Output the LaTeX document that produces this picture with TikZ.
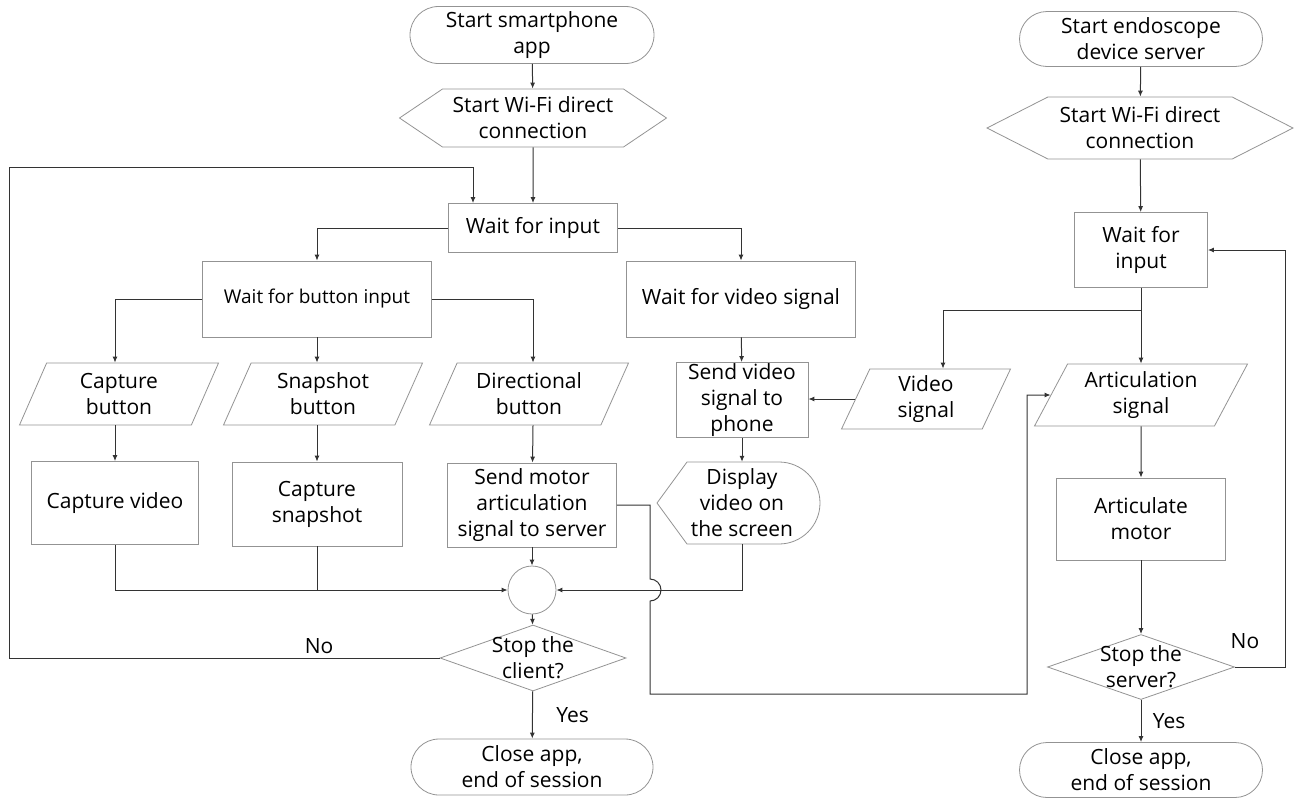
\documentclass[tikz,border=0pt]{standalone}
\usepackage{fontspec}
\setmainfont{Open Sans}
\usepackage{tikz}
\usetikzlibrary{shapes.geometric, shapes.misc, shapes.symbols, arrows.meta}

\begin{document}
\begin{tikzpicture}[x=1pt, y=-1pt, >={Latex[length=6pt,width=5pt]},
    font=\fontsize{21}{26}\selectfont,
    outline/.style={draw=gray!85, line width=0.8pt},
    procbox/.style={rectangle, outline, inner sep=1pt, align=center},
    termbox/.style={rounded rectangle, outline, inner sep=1pt, align=center},
    hexbox/.style={signal, signal to=west and east, outline, inner sep=1pt, align=center},
    iobox/.style={trapezium, trapezium stretches body, outline, inner sep=1pt, align=center},
    decbox/.style={diamond, outline, inner sep=0pt},
    flow/.style={draw=black!80, line width=1pt}]
    \useasboundingbox (0,0) rectangle (1295,798);

    % Smartphone app (client)
    \node[termbox, minimum width=246pt, minimum height=57pt] (startA) at (532,35) {Start smartphone\\app};
    \node[hexbox, signal pointer angle=68, minimum width=267pt, minimum height=58pt] (hexA) at (533,118) {Start Wi-Fi direct\\connection};
    \node[procbox, minimum width=169pt, minimum height=49pt] (waitA) at (533,228) {Wait for input};
    \node[procbox, minimum width=229pt, minimum height=76pt, font=\fontsize{19}{24}\selectfont] (wbtn) at (317,299) {Wait for button input};
    \node[procbox, minimum width=229pt, minimum height=76pt] (wvid) at (741,299) {Wait for video signal};

    % Buttons
    \node[iobox, trapezium left angle=58, trapezium right angle=122, minimum width=199pt, minimum height=62pt] (capB) at (119,394) {Capture\\button};
    \node[iobox, trapezium left angle=58, trapezium right angle=122, minimum width=199pt, minimum height=62pt] (snapB) at (323,394) {Snapshot\\button};
    \node[iobox, trapezium left angle=58, trapezium right angle=122, minimum width=199pt, minimum height=62pt] (dirB) at (529,394) {Directional\\button};

    % Actions
    \node[procbox, minimum width=167pt, minimum height=83pt] (capV) at (115,503) {Capture video};
    \node[procbox, minimum width=170pt, minimum height=84pt] (capS) at (317,504) {Capture\\snapshot};
    \node[procbox, minimum width=169pt, minimum height=84pt] (motor) at (532,505) {Send motor\\articulation\\signal to server};
    \node[procbox, minimum width=132pt, minimum height=75pt, inner sep=0pt] (sendV) at (742,400) {Send video\\signal to\\phone};

    % Display
    \draw[outline] (657,503) -- (687,462) -- (779,462) arc[start angle=90, end angle=-90, radius=41pt] -- (687,544) -- cycle;
    \node[minimum width=163pt, minimum height=82pt, align=center, inner sep=0pt] (disp) at (742,503) {Display\\video on\\the screen};

    % Join and stop
    \node[circle, outline, minimum size=48pt, inner sep=0pt] (junc) at (532,590) {};
    \node[decbox, minimum width=186pt, minimum height=66pt] (stopC) at (533,658) {};
    \node[align=center, inner sep=0pt] at (stopC) {Stop the\\client?};
    \node[termbox, minimum width=244pt, minimum height=56pt] (closeA) at (532,767) {Close app,\\end of session};

    % Endoscope device (server)
    \node[termbox, minimum width=245pt, minimum height=55pt] (startB) at (1141,39) {Start endoscope\\device server};
    \node[hexbox, signal pointer angle=54, minimum width=306pt, minimum height=62pt] (hexB) at (1140,128) {Start Wi-Fi direct\\connection};
    \node[procbox, minimum width=133pt, minimum height=75pt] (waitB) at (1141,250) {Wait for\\input};
    \node[iobox, trapezium left angle=60, trapezium right angle=120, minimum width=169pt, minimum height=60pt] (vidS) at (926,399) {Video\\signal};
    \node[iobox, trapezium left angle=56, trapezium right angle=124, minimum width=213pt, minimum height=62pt] (artS) at (1141,395) {Articulation\\signal};
    \node[procbox, minimum width=169pt, minimum height=82pt] (artM) at (1141,519) {Articulate\\motor};
    \node[decbox, minimum width=187pt, minimum height=65pt] (stopS) at (1141,667) {};
    \node[align=center, inner sep=0pt] at (stopS) {Stop the\\server?};
    \node[termbox, minimum width=245pt, minimum height=55pt] (closeB) at (1141,770) {Close app,\\end of session};

    % Bends
    \coordinate (loopA) at (9,167);
    \coordinate (hop) at (650,590);
    \coordinate (bendA) at (650,694);
    \coordinate (bendB) at (1027,694);
    \coordinate (loopB) at (1285,250);

    % Connections, client
    \draw[flow, ->] (startA) -- (hexA);
    \draw[flow, ->] (hexA) -- (waitA);
    \draw[flow, ->] (waitA.west) -| (wbtn.north);
    \draw[flow, ->] (waitA.east) -| (wvid.north);
    \draw[flow, ->] (wbtn.west) -| (capB.north -| capV);
    \draw[flow, ->] (wbtn) -- (wbtn |- snapB.north);
    \draw[flow, ->] (wbtn.east) -| (dirB.north -| waitA);
    \draw[flow, ->] (capB.south -| capV) -- (capV);
    \draw[flow, ->] (wbtn |- snapB.south) -- (capS);
    \draw[flow, ->] (dirB.south -| waitA) -- (motor);
    \draw[flow, ->] (capV.south) |- (junc.west);
    \draw[flow] (capS.south) -- (capS.south |- junc);
    \draw[flow, ->] (motor) -- (junc);
    \draw[flow, ->] (wvid) -- (sendV);
    \draw[flow, ->] (sendV) -- (disp.north -| sendV);
    \draw[flow, ->] (disp.south -| sendV) |- (junc.east);
    \draw[flow, ->] (junc) -- (stopC);
    \draw[flow, ->] (stopC) -- node[right=20pt] {Yes} (closeA);
    \draw[flow, ->] (stopC.west) -- node[pos=0.28, above] {No} (stopC.west -| loopA) -- (loopA) -| ([xshift=-60pt]waitA.north);

    % Connections, server
    \draw[flow, ->] (startB) -- (hexB);
    \draw[flow, ->] (hexB) -- (waitB);
    \draw[flow, ->] (waitB) -- (artS);
    \draw[flow, ->] ([yshift=-23pt]waitB.south) -| ([xshift=17pt]vidS.north);
    \draw[flow, ->] (vidS.west) -- (vidS.west -| sendV.east);
    \draw[flow, ->] (artS) -- (artM);
    \draw[flow, ->] (artM) -- (stopS);
    \draw[flow, ->] (stopS) -- node[right=8pt] {Yes} (closeB);
    \draw[flow, ->] (stopS.east) -| node[pos=0.1, above=14pt] {No} (loopB) -- (waitB.east);
    \draw[flow, ->] (motor.east) -| ([yshift=11pt]hop) arc[start angle=90, end angle=-90, radius=11pt] -- (bendA) -- (bendB) |- (artS.west);
\end{tikzpicture}
\end{document}
